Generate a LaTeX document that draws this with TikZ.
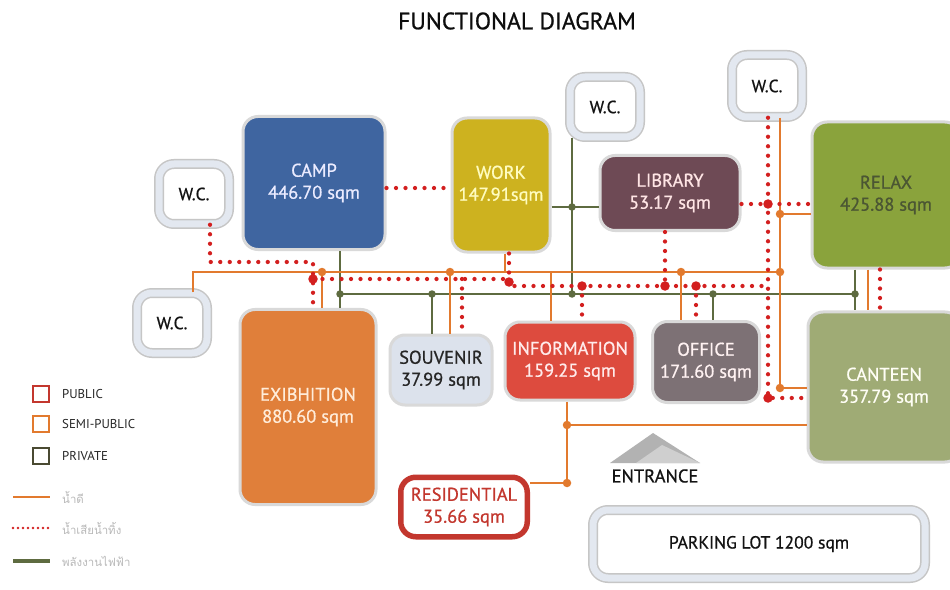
\documentclass[tikz,border=0pt]{standalone}
\usepackage{fontspec}
\setmainfont{PT Sans}
\newfontfamily\medfont{PT Sans}[FakeBold=0.8]
\newfontfamily\thaifont[Script=Thai]{Loma}
\usetikzlibrary{positioning,calc}

\definecolor{campblue}{HTML}{3F65A0}
\definecolor{workyel}{HTML}{CDB21F}
\definecolor{libplum}{HTML}{6E4A55}
\definecolor{relaxgrn}{HTML}{8AA33C}
\definecolor{exhiborg}{HTML}{E07F3A}
\definecolor{souvgray}{HTML}{DCE2EC}
\definecolor{infored}{HTML}{DD4B3E}
\definecolor{officegray}{HTML}{7D7175}
\definecolor{canteengrn}{HTML}{9FAB75}
\definecolor{orangeln}{HTML}{E27A2E}
\definecolor{reddot}{HTML}{D31F1F}
\definecolor{oliveln}{HTML}{5E6B40}
\definecolor{pubred}{HTML}{C3372E}
\definecolor{privgrn}{HTML}{4A4A32}
\definecolor{wcband}{HTML}{E3E8F0}

\begin{document}
\begin{tikzpicture}[x=0.2mm, y=-0.2mm,
    room/.style={rectangle, draw=gray!30, line width=0.6mm, rounded corners=3mm, align=center, font=\medfont\fontsize{10.5}{12.5}\selectfont},
    wc/.style={rectangle, draw=gray!45, line width=0.3mm, double=wcband, double distance=1.4mm, rounded corners=3mm, fill=white, align=center, font=\medfont\fontsize{10}{12}\selectfont, text=gray!15!black},
    oline/.style={draw=orangeln, line width=0.55mm},
    gline/.style={draw=oliveln, line width=0.5mm},
    rdots/.style={draw=reddot, line width=0.85mm, line cap=round, dash pattern=on 0pt off 1.9mm},
    legsq/.style={rectangle, draw=#1, line width=0.45mm, minimum size=3.2mm, inner sep=0pt},
    legtxt/.style={anchor=west, font=\fontsize{7.3}{9}\selectfont, text=gray!30!black},
    thaitxt/.style={anchor=west, font=\thaifont\fontsize{6.5}{8}\selectfont, text=gray!55},
]
\path[use as bounding box, fill=white] (0,0) rectangle (950,590);

% Title
\node[font=\medfont\fontsize{13.5}{16}\selectfont, text=gray!10!black] (title) at (517,21) {FUNCTIONAL DIAGRAM};

% Rooms
\node[room, fill=campblue, text=white!92!blue, minimum width=28.4mm, minimum height=26.6mm] (camp) at (314,183) {CAMP\\446.70 sqm};
\node[room, fill=workyel, text=yellow!25!white, minimum width=19.6mm, minimum height=26.8mm] (work) at (501,185) {WORK\\147.91sqm};
\node[room, fill=libplum, text=white!90!red, minimum width=28mm, minimum height=15mm] (library) at (670,193) {LIBRARY\\53.17 sqm};
\node[room, fill=relaxgrn, text=oliveln!80!black, minimum width=29.6mm, minimum height=29.2mm] (relax) at (886,195) {RELAX\\425.88 sqm};
\node[room, fill=exhiborg, text=orange!15!white, minimum width=27.2mm, minimum height=39mm] (exhib) at (308,407) {EXIBHITION\\880.60 sqm};
\node[room, fill=souvgray, text=gray!30!black, minimum width=20.4mm, minimum height=14mm] (souvenir) at (441,370) {SOUVENIR\\37.99 sqm};
\node[room, fill=infored, text=white!92!red, minimum width=26mm, minimum height=15.6mm] (info) at (570,361) {INFORMATION\\159.25 sqm};
\node[room, fill=officegray, text=white!95!red, minimum width=21.4mm, minimum height=16.2mm] (office) at (706,362) {OFFICE\\171.60 sqm};
\node[room, fill=canteengrn, text=white!96!yellow, minimum width=30.4mm, minimum height=30mm] (canteen) at (884,387) {CANTEEN\\357.79 sqm};
\node[room, draw=pubred, line width=1.1mm, fill=white, text=pubred, minimum width=25.3mm, minimum height=11.9mm] (resid) at (464,507) {RESIDENTIAL\\35.66 sqm};

% W.C. and parking
\node[wc, minimum width=14mm, minimum height=12mm] (wcL) at (194,194) {W.C.};
\node[wc, minimum width=14mm, minimum height=12mm] (wcD) at (172,323) {W.C.};
\node[wc, minimum width=14mm, minimum height=12mm] (wcC) at (605,107) {W.C.};
\node[wc, minimum width=14mm, minimum height=12.4mm] (wcR) at (767,86) {W.C.};
\node[wc, minimum width=66.4mm, minimum height=13.6mm] (parking) at (759,544) {PARKING LOT 1200 sqm};

% Entrance
\fill[gray!60] (610,463) -- (653,433) -- (700,463) -- cycle;
\fill[gray!38] (636,463) -- (662,445) -- (700,463) -- cycle;
\node[font=\medfont\fontsize{10.5}{12}\selectfont, text=gray!15!black] (entrance) at (655,476) {ENTRANCE};

% Junctions
\coordinate (oW) at (193,272);
\coordinate (oA) at (322,272);
\coordinate (oB) at (450,272);
\coordinate (oC) at (505,272);
\coordinate (oD) at (551,272);
\coordinate (oF) at (681,272);
\coordinate (oE) at (780,272);
\coordinate (oR) at (780,214);
\coordinate (oK) at (780,388);
\coordinate (oV) at (868,290);
\coordinate (oI) at (567,425);
\coordinate (oS) at (567,483);
\coordinate (r1) at (210,262);
\coordinate (r2) at (313,262);
\coordinate (rA) at (313,279);
\coordinate (rB) at (462,279);
\coordinate (rC) at (509,282);
\coordinate (rD) at (582,286);
\coordinate (rF) at (665,286);
\coordinate (rG) at (696,286);
\coordinate (rE) at (768,286);
\coordinate (rL) at (768,204);
\coordinate (rK) at (768,398);
\coordinate (rV) at (880,290);
\coordinate (rc) at (420,188);
\coordinate (gA) at (340,294);
\coordinate (gB) at (432,294);
\coordinate (gC) at (572,294);
\coordinate (gD) at (713,294);
\coordinate (gE) at (855,294);
\coordinate (gL) at (572,207);

% Private links (olive)
\draw[gline] (gA) -- (gE);
\draw[gline] (camp.south -| gA) -- (exhib.north -| gA);
\draw[gline] (gB) -- (gB |- souvenir.north);
\draw[gline] (wcC.south -| gC) -- (gC);
\draw[gline] (work.east |- gL) -- (library.west |- gL);
\draw[gline] (gD) -- (gD |- office.north);
\draw[gline] (relax.south -| gE) -- (canteen.north -| gE);
\foreach \p in {gA,gB,gC,gD,gE,gL} \fill[oliveln] (\p) circle (0.75mm);

% Semi-public links (orange)
\draw[oline] (oW |- wcD.north) -- (oW) -- (oE);
\draw[oline] (oA) -- (oA |- exhib.north);
\draw[oline] (oB) -- (oB |- souvenir.north);
\draw[oline] (work.south -| oC) -- (oC);
\draw[oline] (oD) -- (oD |- info.north);
\draw[oline] (oF) -- (oF |- office.north);
\draw[oline] (wcR.south -| oR) -- (oK) -- (oK -| canteen.west);
\draw[oline] (oR) -- (oR -| relax.west);
\draw[oline] (relax.south -| oV) -- (canteen.north -| oV);
\draw[oline] (info.south -| oI) -- (oS) -- (oS -| resid.east);
\draw[oline] (oI) -- (oI -| canteen.west);
\foreach \p in {oA,oB,oF,oE,oR,oK,oI,oS} \fill[orangeln] (\p) circle (0.85mm);

% Public links (red dotted)
\draw[rdots] (wcL.south -| r1) -- (r1) -- (r2) -- (rA) -- (rA |- exhib.north);
\draw[rdots] (rA) -- (rA -| rC);
\draw[rdots] (work.south -| rC) -- (rC |- rE) -- (rE);
\draw[rdots] (rB) -- (rB |- souvenir.north);
\draw[rdots] (rD) -- (rD |- info.north);
\draw[rdots] (library.south -| rF) -- (rF);
\draw[rdots] (rG) -- (rG |- office.north);
\draw[rdots] (wcR.south -| rE) -- (rK) -- (rK -| canteen.west);
\draw[rdots] (library.east |- rL) -- (relax.west |- rL);
\draw[rdots] (camp.east |- rc) -- (work.west |- rc);
\draw[rdots] (relax.south -| rV) -- (canteen.north -| rV);
\foreach \p in {rA,rC,rD,rF,rG,rL,rK} \fill[reddot] (\p) circle (0.95mm);

% Legend
\node[legsq=pubred] (kpub) at (41,394) {};
\node[legtxt] (kpubt) at (56,394) {PUBLIC};
\node[legsq=orangeln] (ksemi) at (41,424) {};
\node[legtxt] (ksemit) at (56,424) {SEMI-PUBLIC};
\node[legsq=privgrn] (kpriv) at (41,456) {};
\node[legtxt] (kprivt) at (56,456) {PRIVATE};
\coordinate (k1a) at (13,497); \coordinate (k1b) at (50,497);
\coordinate (k2a) at (13,528); \coordinate (k2b) at (50,528);
\coordinate (k3a) at (13,561); \coordinate (k3b) at (50,561);
\draw[oline] (k1a) -- (k1b);
\draw[rdots, line width=0.55mm, dash pattern=on 0pt off 1mm] (k2a) -- (k2b);
\draw[gline, line width=0.7mm] (k3a) -- (k3b);
\node[thaitxt] (k1t) at (56,497) {น้ำดี};
\node[thaitxt] (k2t) at (56,528) {น้ำเสียน้ำทิ้ง};
\node[thaitxt] (k3t) at (56,561) {พลังงานไฟฟ้า};
\end{tikzpicture}
\end{document}
